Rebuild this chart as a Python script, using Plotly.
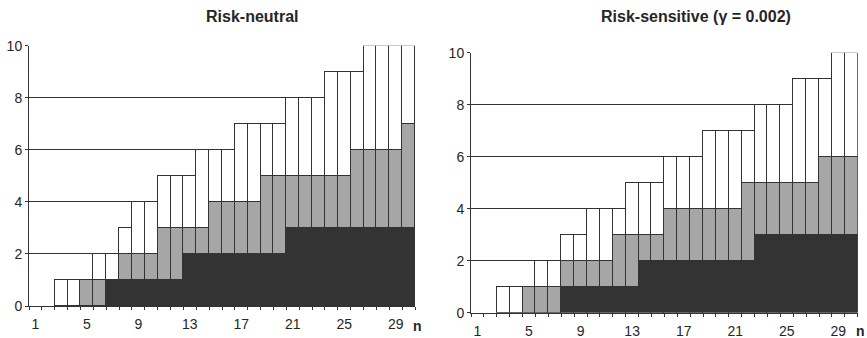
import plotly.graph_objects as go

W, H = 867, 338

n = list(range(1, 31))

# Risk-neutral panel: stacked segment heights (black, gray, white)
neutral_black = [0,0,0,0,0,0,1,1,1,1,1,1,2,2,2,2,2,2,2,2,3,3,3,3,3,3,3,3,3,3]
neutral_gray  = [0,0,0,0,1,1,0,1,1,1,2,2,1,1,2,2,2,2,3,3,2,2,2,2,2,3,3,3,3,4]
neutral_white = [0,0,1,1,0,1,1,1,2,2,2,2,2,3,2,2,3,3,2,2,3,3,3,4,4,3,4,4,4,3]

# Risk-sensitive panel
sens_black = [0,0,0,0,0,0,0,1,1,1,1,1,1,2,2,2,2,2,2,2,2,2,3,3,3,3,3,3,3,3]
sens_gray  = [0,0,0,0,1,1,1,1,1,1,1,2,2,1,1,2,2,2,2,2,2,3,2,2,2,2,2,3,3,3]
sens_white = [0,0,1,1,0,1,1,1,1,2,2,1,2,2,2,2,2,2,3,3,3,2,3,3,3,4,4,3,4,4]

x_ticks = [1, 5, 9, 13, 17, 21, 25, 29]
y_ticks = [0, 2, 4, 6, 8, 10]

titles = ["Risk-neutral", "Risk-sensitive (γ = 0.002)"]

FONT = "Liberation Sans, Arial, sans-serif"
EDGE = "#333333"
TXT = "#262626"
colors = ["#333333", "#a6a6a6", "#ffffff"]

fig = go.Figure()

panels = [
    (neutral_black, neutral_gray, neutral_white, "x", "y"),
    (sens_black, sens_gray, sens_white, "x2", "y2"),
]
for segs_b, segs_g, segs_w, xa, ya in panels:
    for vals, col in zip([segs_b, segs_g, segs_w], colors):
        # zero-height segments are not drawn (no outline on the baseline)
        shown = [v if v else None for v in vals]
        fig.add_trace(go.Bar(
            x=n, y=shown, xaxis=xa, yaxis=ya,
            marker=dict(color=col, line=dict(color=EDGE, width=1)),
            showlegend=False, hoverinfo="skip",
        ))

def px_x(v):
    return v / W

def px_y(v):
    return 1 - v / H

axis_common = dict(
    showline=True, linecolor=EDGE, linewidth=1, mirror=False,
    tickfont=dict(family=FONT, size=14, color=TXT),
    zeroline=False, automargin=False,
)

xaxis_common = dict(
    range=[0.5, 30.5], tickvals=x_ticks, ticks="", showgrid=False,
    ticklabelstandoff=5,
    minor=dict(tick0=0.5, dtick=1, ticks="outside", ticklen=3, tickcolor=EDGE, showgrid=False),
    **axis_common,
)
yaxis_common = dict(
    range=[0, 10], tickvals=y_ticks, ticks="outside", ticklen=3, tickcolor=EDGE,
    showgrid=True, gridcolor=EDGE, gridwidth=1,
    **axis_common,
)

fig.update_layout(
    width=W, height=H,
    margin=dict(l=0, r=0, t=0, b=0),
    paper_bgcolor="white", plot_bgcolor="white",
    barmode="stack", bargap=0,
    font=dict(family=FONT, color=TXT),
    xaxis=dict(domain=[px_x(29), px_x(415)], anchor="y", **xaxis_common),
    yaxis=dict(domain=[px_y(306), px_y(45.7)], anchor="x", **yaxis_common),
    xaxis2=dict(domain=[px_x(471), px_x(857.7)], anchor="y2", **xaxis_common),
    yaxis2=dict(domain=[px_y(312.7), px_y(52.7)], anchor="x2", **yaxis_common),
)

def label(text, x, y, size):
    return dict(text=text, x=px_x(x), y=px_y(y), xref="paper", yref="paper",
                xanchor="center", yanchor="middle", showarrow=False,
                font=dict(family=FONT, size=size, color=TXT))

annotations = [
    label("<b>" + titles[0] + "</b>", 252, 16, 16),
    label("<b>" + titles[1] + "</b>", 696, 16, 16),
    label("<b>n</b>", 417, 326, 14),
    label("<b>n</b>", 860, 331, 14),
]
fig.update_layout(annotations=annotations)

fig.write_html(
    "out.html",
    config={"displayModeBar": False},
    post_script="document.body.style.margin='0';document.body.style.overflow='hidden';",
)
